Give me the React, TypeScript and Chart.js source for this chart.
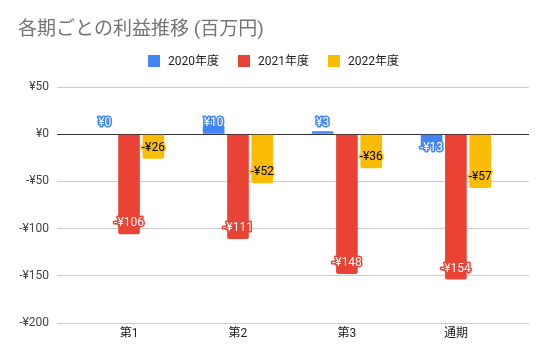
import React, { useEffect, useRef } from "react";
import { Chart, registerables } from "chart.js";

Chart.register(...registerables);

const title = "各期ごとの利益推移 (百万円)";
const categories = ["第1", "第2", "第3", "通期"];
const seriesNames = ["2020年度", "2021年度", "2022年度"];
const values2020 = [0, 10, 3, -13];
const values2021 = [-106, -111, -148, -154];
const values2022 = [-26, -52, -36, -57];
const yTicks = [50, 0, -50, -100, -150, -200];

const colors = ["#4285F4", "#EA4335", "#FBBC04"];
const labelFill = ["#ffffff", "#ffffff", "#000000"];
const FONT = "Roboto, 'Noto Sans CJK JP', sans-serif";

const fmt = (v: number) => (v < 0 ? "-¥" + Math.abs(v) : "¥" + v);

const headerPlugin = {
  id: "header",
  afterDraw(chart: any) {
    const ctx = chart.ctx;
    ctx.save();
    ctx.font = `19px ${FONT}`;
    ctx.fillStyle = "#757575";
    ctx.textAlign = "left";
    ctx.textBaseline = "middle";
    ctx.fillText(title, 18, 30);

    ctx.font = `12px ${FONT}`;
    const box = 12, gap = 8, spacing = 19;
    const widths = seriesNames.map((n) => box + gap + ctx.measureText(n).width);
    const total = widths.reduce((a, b) => a + b, 0) + spacing * (seriesNames.length - 1);
    let x = chart.width / 2 - total / 2;
    const cy = 61;
    seriesNames.forEach((n, i) => {
      ctx.fillStyle = colors[i];
      ctx.fillRect(x, cy - box / 2, box, box);
      ctx.fillStyle = "#222";
      ctx.textAlign = "left";
      ctx.fillText(n, x + box + gap, cy + 0.5);
      x += widths[i] + spacing;
    });
    ctx.restore();
  },
};

const labelPlugin = {
  id: "barLabels",
  afterDatasetsDraw(chart: any) {
    const ctx = chart.ctx;
    const yScale = chart.scales.y;
    const zero = yScale.getPixelForValue(0);
    ctx.save();
    ctx.font = `12px ${FONT}`;
    ctx.textAlign = "center";
    ctx.textBaseline = "middle";
    ctx.lineJoin = "round";
    chart.data.datasets.forEach((ds: any, di: number) => {
      const meta = chart.getDatasetMeta(di);
      meta.data.forEach((el: any, i: number) => {
        const v = ds.data[i].y;
        let y: number;
        if (v < 0) y = Math.max(el.y - 11, zero + 13.5);
        else y = Math.min(el.y + 11, zero - 11.5);
        const t = fmt(v);
        ctx.lineWidth = 3;
        ctx.strokeStyle = colors[di];
        ctx.strokeText(t, el.x, y);
        ctx.fillStyle = labelFill[di];
        ctx.fillText(t, el.x, y);
      });
    });
    ctx.restore();
  },
};

export default function App() {
  const ref = useRef<HTMLCanvasElement>(null);
  useEffect(() => {
    document.body.style.margin = "0";
    const all = [values2020, values2021, values2022];
    const chart = new Chart(ref.current!, {
      type: "bar",
      data: {
        datasets: all.map((vals, di) => ({
          label: seriesNames[di],
          data: vals.map((v, i) => ({ x: i, y: v })),
          backgroundColor: colors[di],
          borderRadius: 2,
          borderSkipped: "start",
          categoryPercentage: 0.67,
          barPercentage: 0.89,
        })),
      },
      options: {
        animation: false,
        responsive: false,
        devicePixelRatio: 1,
        layout: { padding: { top: 87, right: 18, bottom: 0, left: 0 } },
        plugins: { legend: { display: false }, title: { display: false }, tooltip: { enabled: false } },
        scales: {
          x: {
            type: "linear",
            offset: false,
            min: -0.661,
            max: 3.671,
            afterBuildTicks: (s: any) => {
              s.ticks = categories.map((_, i) => ({ value: i }));
            },
            afterFit: (s: any) => {
              s.height = 37;
            },
            grid: { display: false, drawTicks: false },
            border: { display: false },
            ticks: {
              padding: 4,
              autoSkip: false,
              maxRotation: 0,
              color: "#222",
              font: { family: FONT, size: 12 },
              callback: (v: any) => categories[v] ?? "",
            },
          },
          y: {
            min: -200,
            max: 50,
            afterBuildTicks: (s: any) => {
              s.ticks = yTicks.map((v) => ({ value: v }));
            },
            afterFit: (s: any) => {
              s.width = 57;
            },
            grid: {
              drawTicks: false,
              color: (c: any) => (c.tick && c.tick.value === 0 ? "#333333" : "#cccccc"),
            },
            border: { display: false },
            ticks: {
              padding: 8,
              color: "#444",
              font: { family: FONT, size: 12 },
              callback: (v: any) => fmt(Number(v)),
            },
          },
        },
      },
      plugins: [headerPlugin, labelPlugin],
    } as any);
    return () => chart.destroy();
  }, []);
  return (
    <div style={{ position: "absolute", left: 0, top: 0, width: 547, height: 360 }}>
      <canvas ref={ref} width={547} height={360} style={{ width: 547, height: 360 }} />
    </div>
  );
}
